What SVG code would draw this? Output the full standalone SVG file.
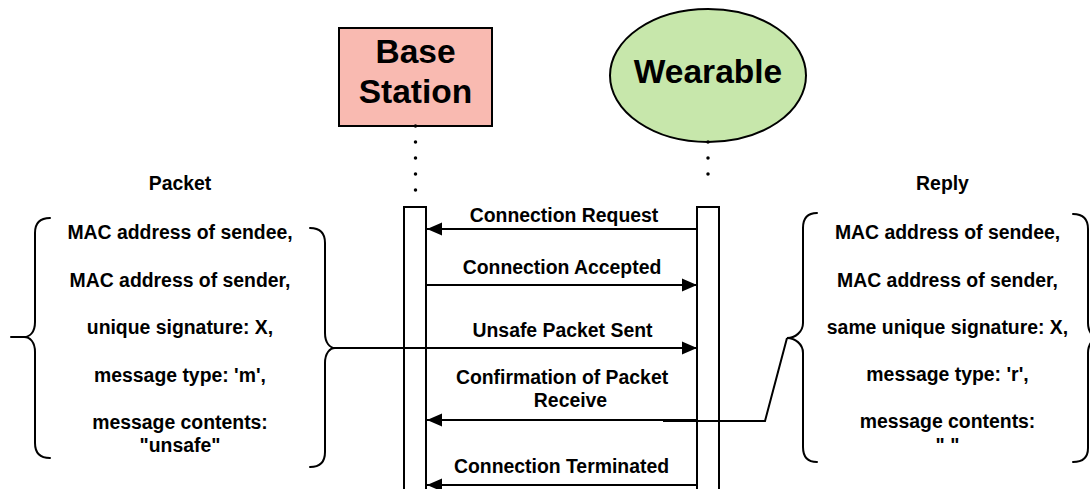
<svg xmlns="http://www.w3.org/2000/svg" width="1090" height="489" viewBox="0 0 1090 489">
  <style>
    text { font-family: "Liberation Sans", Arial, sans-serif; font-weight: bold; fill: #000; text-anchor: middle; }
    .title { font-size: 33.5px; }
    .body { font-size: 19.4px; }
    .line { fill: none; stroke: #000; stroke-width: 2; }
    .brace { fill: none; stroke: #000; stroke-width: 2; stroke-linecap: round; }
    .dots { fill: none; stroke: #000; stroke-width: 3.5; stroke-linecap: round; stroke-dasharray: 0 16; }
    .bar { fill: #fff; stroke: #000; stroke-width: 2; }
  </style>
  <defs>
    <marker id="head" markerUnits="userSpaceOnUse" markerWidth="16" markerHeight="14" refX="15" refY="7" orient="auto">
      <path d="M0,0.5 L15,7 L0,13.5 Z" fill="#000"/>
    </marker>
  </defs>

  <rect width="1090" height="489" fill="#fff"/>

  <!-- Participants -->
  <g id="base-station">
    <rect x="339" y="28" width="153" height="98" fill="#f9bab1" stroke="#000" stroke-width="2"/>
    <text class="title" x="415.5" y="63">Base</text>
    <text class="title" x="415.5" y="103">Station</text>
  </g>
  <g id="wearable">
    <ellipse cx="708" cy="75.5" rx="98" ry="66.5" fill="#c7e7ab" stroke="#000" stroke-width="2"/>
    <text class="title" x="708" y="83">Wearable</text>
  </g>

  <!-- Lifelines -->
  <g id="lifelines">
    <path class="dots" d="M415.5,126 V206"/>
    <path class="dots" d="M708,142 V190"/>
    <rect id="base-activation" class="bar" x="404" y="207" width="22" height="300"/>
    <rect id="wearable-activation" class="bar" x="697" y="207" width="22" height="300"/>
  </g>

  <!-- Packet contents -->
  <g id="packet">
    <text class="body" x="180" y="190">Packet</text>
    <path class="brace" d="M50,218 C40,218 35,223 35,233 L35,322 C35,332 30,337 24,337 C30,337 35,342 35,352 L35,443 C35,453 40,458 50,458 M11,337 L24,337"/>
    <path class="brace" d="M310,228 C320,228 325,233 325,243 L325,333 C325,343 330,348 335,348 C330,348 325,353 325,363 L325,452 C325,462 320,467 310,467"/>
    <text class="body" x="180" y="239">MAC address of sendee,</text>
    <text class="body" x="180" y="287">MAC address of sender,</text>
    <text class="body" x="180" y="334">unique signature: X,</text>
    <text class="body" x="180" y="382">message type: 'm',</text>
    <text class="body" x="180" y="429">message contents:</text>
    <text class="body" x="180" y="452">"unsafe"</text>
  </g>

  <!-- Reply contents -->
  <g id="reply">
    <text class="body" x="942.5" y="190">Reply</text>
    <path class="brace" d="M817,213 C807,213 803,218 803,228 L803,323 C803,332 795,338 787,338 C795,338 803,344 803,353 L803,447 C803,457 807,462 817,462"/>
    <path class="brace" d="M1073,214 C1083,214 1088,219 1088,229 L1088,323 C1088,333 1094,338 1100,338 C1094,338 1088,343 1088,353 L1088,448 C1088,458 1083,462 1073,462"/>
    <text class="body" x="947.5" y="239">MAC address of sendee,</text>
    <text class="body" x="947.5" y="287">MAC address of sender,</text>
    <text class="body" x="947.5" y="334">same unique signature: X,</text>
    <text class="body" x="947.5" y="381">message type: 'r',</text>
    <text class="body" x="947.5" y="428">message contents:</text>
    <text class="body" x="947.5" y="452">" "</text>
  </g>

  <!-- Messages -->
  <g id="connectors">
    <path class="line" d="M697,229 H427" marker-end="url(#head)"/>
    <path class="line" d="M426,285 H697" marker-end="url(#head)"/>
    <path class="line" d="M335,348 H697" marker-end="url(#head)"/>
    <path class="line" d="M697,420 H427" marker-end="url(#head)"/>
    <path class="line" d="M787,338 L765,421 H663"/>
    <path class="line" d="M697,485 H427" marker-end="url(#head)"/>
  </g>

  <g id="message-labels">
    <text class="body" x="564" y="222">Connection Request</text>
    <text class="body" x="562" y="274">Connection Accepted</text>
    <text class="body" x="562.5" y="336.5">Unsafe Packet Sent</text>
    <text class="body" x="562" y="384">Confirmation of Packet</text>
    <text class="body" x="570.5" y="407">Receive</text>
    <text class="body" x="561.5" y="473">Connection Terminated</text>
  </g>
</svg>
